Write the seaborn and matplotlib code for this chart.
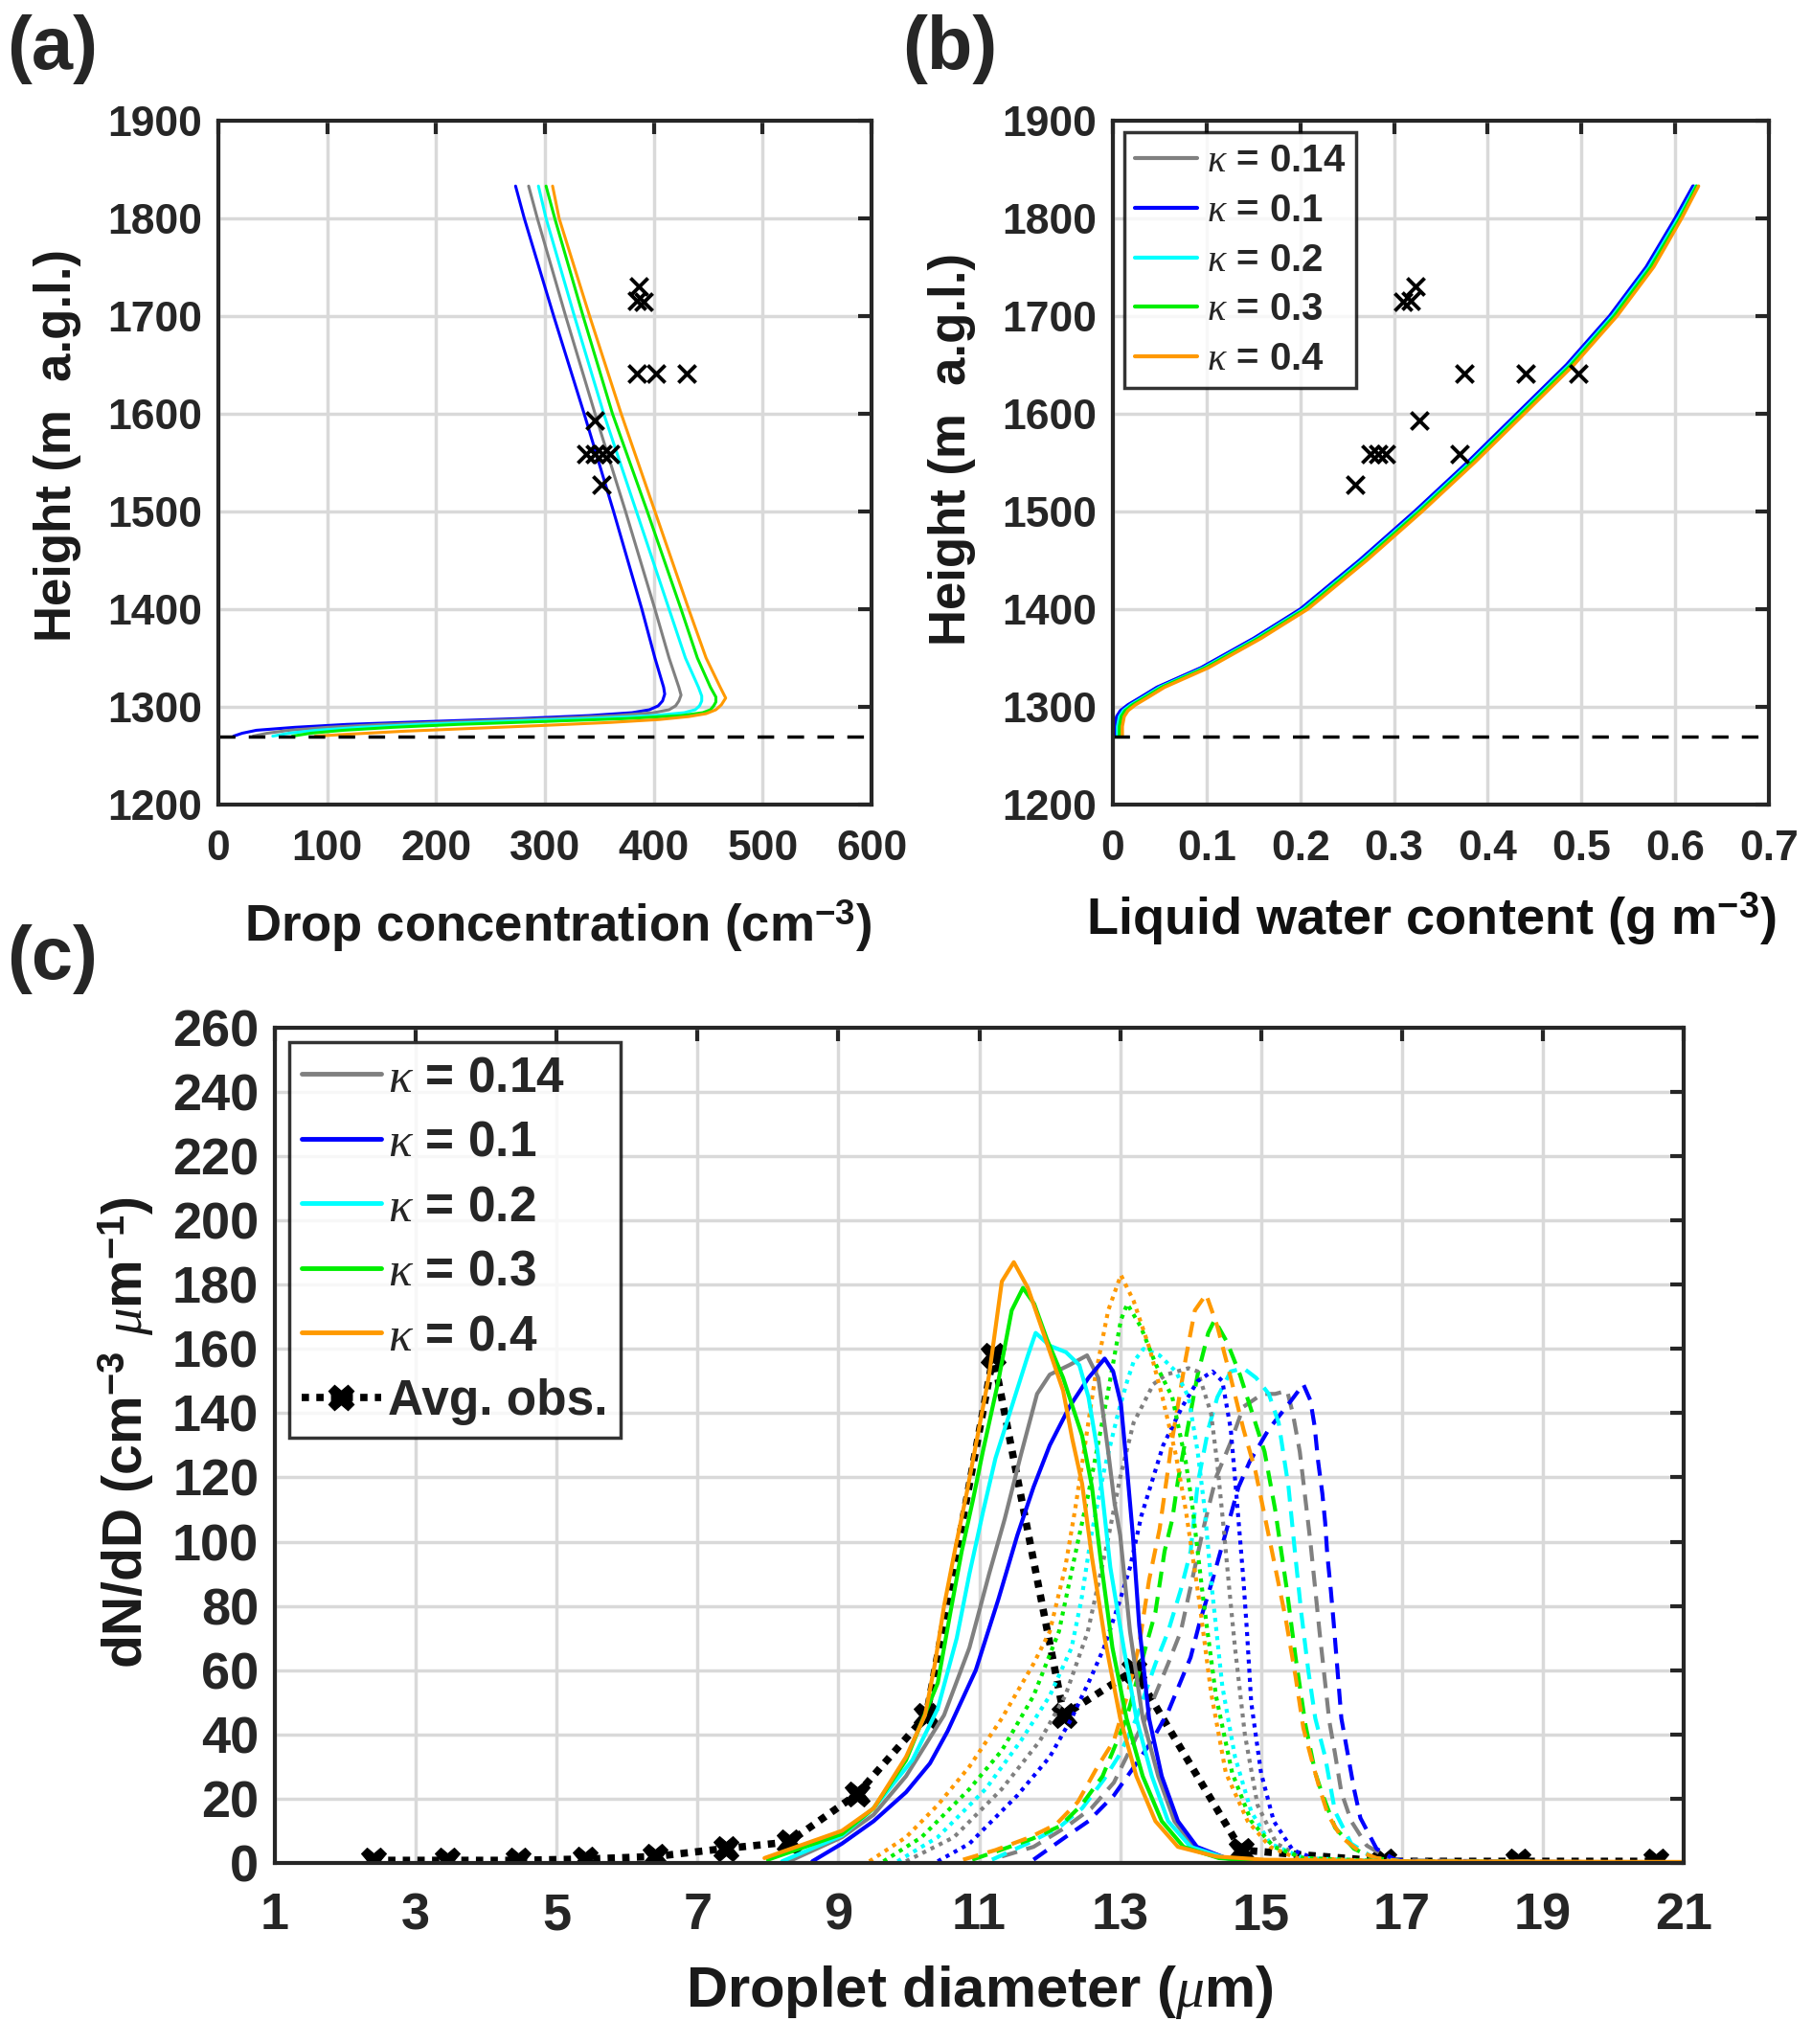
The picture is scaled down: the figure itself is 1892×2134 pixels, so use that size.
import numpy as np
import pandas as pd
import matplotlib
matplotlib.use('Agg')
import matplotlib.pyplot as plt
import seaborn as sns
from matplotlib.lines import Line2D

# ---------------- data: panel (a) drop concentration profiles ----------------
kappa_labels = [r'$\kappa$ = 0.14', r'$\kappa$ = 0.1', r'$\kappa$ = 0.2', r'$\kappa$ = 0.3', r'$\kappa$ = 0.4']
kappa_keys = ['k014', 'k01', 'k02', 'k03', 'k04']
colors = {'k014': '#808080', 'k01': '#0000ff', 'k02': '#00ffff', 'k03': '#00ee00', 'k04': '#ff9900'}

h_a_k01 = [1270, 1273, 1276, 1279, 1282, 1285, 1288, 1291, 1294, 1297, 1301, 1306, 1313, 1320, 1350, 1400, 1500, 1600, 1700, 1800, 1833]
nd_k01 = [14, 22, 35, 70, 118, 195, 277, 340, 380, 396, 404, 408, 410, 409, 401, 389, 363, 336, 308, 281, 273]
h_a_k014 = [1270, 1273, 1276, 1279, 1282, 1285, 1288, 1291, 1294, 1297, 1301, 1306, 1312, 1320, 1350, 1400, 1500, 1600, 1700, 1800, 1833]
nd_k014 = [32, 45, 65, 100, 150, 225, 305, 365, 400, 414, 420, 423, 425, 423, 414, 401, 374, 346, 319, 293, 285]
h_a_k02 = [1270, 1273, 1276, 1279, 1282, 1285, 1288, 1291, 1294, 1297, 1301, 1306, 1311, 1320, 1350, 1400, 1500, 1600, 1700, 1800, 1833]
nd_k02 = [50, 65, 90, 130, 185, 260, 340, 400, 428, 438, 442, 444, 444, 441, 429, 414, 384, 354, 327, 301, 294]
h_a_k03 = [1270, 1273, 1276, 1279, 1282, 1285, 1288, 1291, 1294, 1297, 1301, 1305, 1310, 1320, 1350, 1400, 1500, 1600, 1700, 1800, 1833]
nd_k03 = [68, 85, 115, 160, 220, 300, 375, 425, 445, 452, 455, 457, 457, 452, 440, 425, 394, 362, 335, 309, 301]
h_a_k04 = [1270, 1272, 1275, 1278, 1281, 1284, 1287, 1290, 1293, 1297, 1302, 1309, 1320, 1350, 1400, 1500, 1600, 1700, 1800, 1833]
nd_k04 = [89, 120, 170, 235, 300, 360, 405, 432, 448, 457, 462, 466, 461, 448, 432, 401, 370, 341, 313, 307]

obs_height = [1730, 1716, 1715, 1641, 1641, 1641, 1593, 1559, 1559, 1559, 1559, 1527]
obs_nd = [386, 384, 391, 384, 402, 430, 346, 338, 346, 353, 360, 352]
obs_lwc = [0.323, 0.318, 0.310, 0.375, 0.440, 0.497, 0.327, 0.275, 0.283, 0.291, 0.370, 0.259]
cloud_base = 1270

# ---------------- data: panel (b) liquid water content ----------------
h_b = [1270, 1280, 1290, 1296, 1302, 1310, 1320, 1340, 1370, 1400, 1450, 1500, 1550, 1600, 1650, 1700, 1750, 1800, 1833]
lwc_k01 = [0.002, 0.002, 0.004, 0.008, 0.016, 0.030, 0.047, 0.094, 0.150, 0.200, 0.263, 0.322, 0.378, 0.431, 0.484, 0.530, 0.569, 0.600, 0.619]
lwc_k014 = [0.003, 0.003, 0.005, 0.009, 0.017, 0.031, 0.048, 0.095, 0.151, 0.201, 0.264, 0.323, 0.379, 0.432, 0.485, 0.531, 0.570, 0.601, 0.620]
lwc_k02 = [0.005, 0.005, 0.007, 0.011, 0.019, 0.033, 0.050, 0.097, 0.153, 0.203, 0.266, 0.325, 0.381, 0.434, 0.487, 0.533, 0.572, 0.603, 0.622]
lwc_k03 = [0.007, 0.007, 0.009, 0.013, 0.021, 0.035, 0.052, 0.099, 0.155, 0.205, 0.268, 0.327, 0.383, 0.436, 0.489, 0.535, 0.574, 0.605, 0.623]
lwc_k04 = [0.010, 0.010, 0.012, 0.016, 0.024, 0.038, 0.055, 0.102, 0.158, 0.208, 0.271, 0.330, 0.386, 0.439, 0.492, 0.538, 0.577, 0.607, 0.625]

# ---------------- data: panel (c) droplet size distributions ----------------
# solid lines
sol_x_k01 = [8.63, 9.05, 9.5, 9.96, 10.3, 10.55, 10.95, 11.27, 11.54, 11.77, 12.0, 12.28, 12.55, 12.78, 12.9, 13.01, 13.1, 13.18, 13.27, 13.41, 13.59, 13.82, 14.09, 14.5, 15.0, 17.0, 21.0]
sol_y_k01 = [0.5, 6, 13, 22, 31, 41, 60, 82, 102, 117, 130, 142, 151, 157, 153, 143, 122, 102, 74, 45, 27, 13, 5, 1.5, 0.5, 0.2, 0.0]
sol_x_k014 = [8.3, 9.05, 9.5, 9.96, 10.5, 10.86, 11.14, 11.36, 11.59, 11.82, 12.0, 12.28, 12.53, 12.69, 12.83, 12.92, 13.0, 13.14, 13.32, 13.54, 13.77, 14.04, 14.5, 15.0, 17.0, 21.0]
sol_y_k014 = [0.5, 8, 15, 27, 46, 67, 90, 107, 127, 146, 152, 155, 158, 151, 128, 112, 102, 72, 45, 27, 13, 5, 1.5, 0.5, 0.2, 0.0]
sol_x_k02 = [8.2, 9.05, 9.5, 10.05, 10.41, 10.68, 10.86, 11.05, 11.23, 11.46, 11.69, 11.8, 12.0, 12.23, 12.42, 12.55, 12.68, 12.86, 13.05, 13.23, 13.45, 13.68, 14.0, 14.5, 15.0, 17.0, 21.0]
sol_y_k02 = [0.5, 8.5, 17, 32, 48, 70, 90, 109, 126, 142, 158, 165, 161, 159, 155, 145, 128, 92, 67, 45, 27, 13, 5, 1.5, 0.5, 0.2, 0.0]
sol_x_k03 = [8.0, 9.05, 9.5, 9.96, 10.41, 10.59, 10.75, 10.91, 11.05, 11.27, 11.46, 11.62, 11.78, 11.96, 12.19, 12.46, 12.6, 12.72, 12.89, 13.09, 13.32, 13.59, 13.9, 14.4, 15.0, 17.0, 21.0]
sol_y_k03 = [1, 9, 17, 32, 56, 78, 97, 113, 128, 150, 172, 179, 174, 163, 151, 133, 117, 95, 67, 45, 27, 13, 5, 1.5, 0.5, 0.2, 0.0]
sol_x_k04 = [7.95, 9.05, 9.5, 9.96, 10.23, 10.37, 10.5, 10.66, 10.82, 10.95, 11.14, 11.32, 11.49, 11.69, 11.91, 12.19, 12.32, 12.46, 12.6, 12.78, 13.0, 13.23, 13.5, 13.82, 14.36, 15.04, 17.0, 21.0]
sol_y_k04 = [1.5, 10, 17, 33, 46, 62, 80, 98, 115, 130, 152, 181, 187, 179, 165, 147, 132, 118, 95, 70, 45, 27, 13, 5, 2, 1, 0.5, 0.3]

# dotted lines
dot_x_k01 = [10.41, 10.86, 11.54, 12.0, 12.31, 12.59, 12.77, 13.0, 13.14, 13.3, 13.61, 13.88, 14.1, 14.31, 14.45, 14.57, 14.66, 14.75, 14.8, 14.86, 15.0, 15.18, 15.45, 15.8, 17.0, 21.0]
dot_y_k01 = [0.5, 6, 21, 33, 45, 58, 67, 82, 92, 108, 130, 142, 150, 153, 150, 135, 112, 88, 72, 50, 28, 13, 4, 1, 0.3, 0.0]
dot_x_k014 = [9.96, 10.64, 11.32, 11.86, 12.22, 12.54, 12.82, 13.0, 13.19, 13.47, 13.65, 13.97, 14.1, 14.29, 14.38, 14.47, 14.55, 14.63, 14.77, 14.95, 15.22, 15.6, 17.0, 21.0]
dot_y_k014 = [0.5, 8, 23, 38, 52, 72, 100, 120, 137, 149, 152, 154, 153, 140, 124, 104, 85, 67, 40, 18, 6, 1.5, 0.3, 0.0]
dot_x_k02 = [9.84, 10.41, 11.09, 11.59, 12.0, 12.31, 12.45, 12.59, 12.77, 12.97, 13.1, 13.19, 13.33, 13.56, 13.79, 13.97, 14.1, 14.2, 14.29, 14.45, 14.63, 14.86, 15.13, 15.6, 17.0, 21.0]
dot_y_k02 = [0.5, 8, 23, 38, 52, 67, 82, 102, 122, 140, 150, 156, 160, 158, 153, 145, 128, 110, 88, 55, 33, 16, 6, 1.5, 0.3, 0.0]
dot_x_k03 = [9.64, 10.18, 10.86, 11.32, 11.77, 12.13, 12.4, 12.55, 12.7, 12.83, 13.01, 13.1, 13.29, 13.51, 13.74, 13.93, 14.02, 14.18, 14.36, 14.59, 14.86, 15.18, 15.6, 17.0, 21.0]
dot_y_k03 = [0.5, 8, 23, 35, 52, 72, 100, 115, 132, 147, 169, 174, 167, 155, 145, 125, 112, 82, 52, 28, 13, 5, 1.5, 0.3, 0.0]
dot_x_k04 = [9.44, 9.96, 10.41, 10.86, 11.32, 11.77, 12.0, 12.22, 12.36, 12.5, 12.65, 12.83, 13.01, 13.19, 13.42, 13.6, 13.79, 13.93, 14.12, 14.29, 14.5, 14.81, 15.13, 15.5, 17.0, 21.0]
dot_y_k04 = [0.5, 8, 18, 30, 45, 62, 72, 92, 110, 130, 152, 172, 183, 175, 160, 145, 127, 110, 82, 53, 28, 13, 5, 1.5, 0.3, 0.0]

# dashed lines
dsh_x_k01 = [11.77, 12.22, 12.55, 12.91, 13.2, 13.45, 13.68, 14.0, 14.13, 14.31, 14.54, 14.68, 14.84, 15.11, 15.43, 15.6, 15.7, 15.76, 15.81, 15.87, 15.91, 15.94, 15.99, 16.03, 16.14, 16.23, 16.32, 16.41, 16.64, 16.9, 17.2, 21.0]
dsh_y_k01 = [1, 8, 13, 21, 30, 38, 47, 64, 75, 88, 106, 117, 125, 135, 144, 149, 144, 136, 125, 115, 106, 96, 85, 75, 45, 34, 23, 14, 4.4, 1, 0.5, 0.0]
dsh_x_k014 = [11.32, 11.77, 12.22, 12.59, 12.91, 13.36, 13.68, 13.86, 14.04, 14.18, 14.36, 14.57, 14.75, 15.02, 15.2, 15.37, 15.45, 15.55, 15.62, 15.7, 15.77, 15.83, 15.9, 15.97, 16.05, 16.14, 16.28, 16.5, 16.8, 17.0, 21.0]
dsh_y_k014 = [2, 5, 11, 17, 25, 45, 62, 72, 90, 104, 120, 131, 142, 146, 146, 147, 140, 128, 115, 100, 85, 72, 58, 44, 34, 22, 13, 5.4, 1.5, 0.8, 0.0]
dsh_x_k02 = [11.18, 11.68, 12.13, 12.46, 12.77, 13.0, 13.23, 13.5, 13.68, 13.86, 14.0, 14.1, 14.25, 14.38, 14.57, 14.75, 14.93, 15.11, 15.25, 15.39, 15.48, 15.57, 15.67, 15.77, 15.91, 16.05, 16.28, 16.6, 17.0, 21.0]
dsh_y_k02 = [1, 6, 11, 17, 26, 34, 45, 62, 72, 85, 97, 118, 135, 145, 153, 154, 151, 146, 137, 117, 97, 78, 60, 45, 33, 16, 6, 1.5, 0.5, 0.0]
dsh_x_k03 = [10.9, 11.3, 11.75, 12.15, 12.45, 12.75, 13.09, 13.36, 13.5, 13.63, 13.74, 13.82, 13.93, 14.1, 14.25, 14.34, 14.52, 14.7, 14.89, 15.05, 15.2, 15.36, 15.49, 15.63, 15.77, 15.86, 16.05, 16.32, 16.6, 17.0, 21.0]
dsh_y_k03 = [1, 4, 7.5, 11.5, 18, 27, 45, 67, 78, 97, 107, 119, 132, 152, 165, 169, 162, 152, 139, 128, 110, 86, 64, 43, 28, 22, 11, 4.4, 1.5, 0.5, 0.0]
dsh_x_k04 = [10.77, 11.23, 11.72, 12.09, 12.4, 12.68, 12.91, 13.1, 13.27, 13.41, 13.56, 13.74, 13.93, 14.06, 14.22, 14.38, 14.57, 14.75, 14.92, 15.08, 15.22, 15.35, 15.49, 15.6, 15.72, 15.82, 15.95, 16.14, 16.41, 16.64, 17.0, 21.0]
dsh_y_k04 = [1, 4, 8, 12, 19, 30, 38, 52, 68, 88, 104, 132, 157, 172, 177, 167, 151, 135, 122, 105, 90, 76, 58, 42, 32, 24, 15, 8, 3.4, 1.5, 0.5, 0.0]

# average observed distribution
obs_d = [2.4, 3.45, 4.45, 5.4, 6.4, 7.4, 8.3, 9.27, 10.25, 11.2, 12.2, 13.2, 14.72, 16.75, 18.65, 20.6]
obs_dndd = [0.8, 0.8, 0.8, 1.2, 2.0, 4.5, 6.5, 21.5, 46, 158, 46, 60, 4, 0.5, 0.5, 0.5]

# ---------------- styling ----------------
sns.set_style('white')
plt.rcParams['font.family'] = ['Liberation Sans', 'DejaVu Sans']
plt.rcParams['font.weight'] = 'bold'
plt.rcParams['axes.labelweight'] = 'bold'
plt.rcParams['mathtext.fontset'] = 'custom'
plt.rcParams['mathtext.rm'] = 'Liberation Sans:bold'
plt.rcParams['mathtext.bf'] = 'Liberation Sans:bold'
plt.rcParams['mathtext.sf'] = 'Liberation Sans:bold'
plt.rcParams['mathtext.it'] = 'Liberation Serif:style=italic:weight=normal'

SPINE = '#262626'
GRID = '#d9d9d9'
TXT = '#1a1a1a'


def style_axes(ax, fs, xpad, ypad):
    for s in ax.spines.values():
        s.set_visible(True)
        s.set_color(SPINE)
        s.set_linewidth(3)
    ax.grid(True, color=GRID, lw=2.5)
    ax.set_axisbelow(True)
    ax.tick_params(direction='in', length=10, width=3, top=True, right=True,
                   labelsize=fs, color=SPINE, labelcolor='#262626')
    ax.tick_params(axis='x', pad=xpad)
    ax.tick_params(axis='y', pad=ypad)


fig = plt.figure(figsize=(18.92, 21.34), dpi=100)

# ---------------- panel (a) ----------------
ax_a = fig.add_axes([0.1205, 0.6064, 0.3605, 0.3346])
prof_a = {'k014': (nd_k014, h_a_k014), 'k01': (nd_k01, h_a_k01), 'k02': (nd_k02, h_a_k02),
          'k03': (nd_k03, h_a_k03), 'k04': (nd_k04, h_a_k04)}
for k in ['k01', 'k014', 'k02', 'k03', 'k04']:
    xs, hs = prof_a[k]
    sns.lineplot(x=xs, y=hs, sort=False, estimator=None, color=colors[k], lw=2.2, ax=ax_a, legend=False)
ax_a.axhline(cloud_base, color='black', lw=2.5, dashes=(5, 4))
sns.scatterplot(x=obs_nd, y=obs_height, marker='x', color='black', s=170, linewidth=2.8, ax=ax_a, legend=False, zorder=5)
ax_a.set_xlim(0, 600)
ax_a.set_ylim(1200, 1900)
ax_a.set_xticks(np.arange(0, 601, 100))
ax_a.set_yticks(np.arange(1200, 1901, 100))
style_axes(ax_a, 32, 19, 12)
ax_a.set_xlabel('Drop concentration (cm$^{-3}$)', fontsize=38, labelpad=22, color=TXT, x=0.52)
ax_a.set_ylabel('Height (m  a.g.l.)', fontsize=38, labelpad=20, color=TXT, y=0.525)

# ---------------- panel (b) ----------------
ax_b = fig.add_axes([0.6142, 0.6064, 0.362, 0.3346])
lwc_b = {'k014': lwc_k014, 'k01': lwc_k01, 'k02': lwc_k02, 'k03': lwc_k03, 'k04': lwc_k04}
handles_b = []
for k, lab in zip(kappa_keys, kappa_labels):
    sns.lineplot(x=lwc_b[k], y=h_b, sort=False, estimator=None, color=colors[k], lw=2.5, ax=ax_b, legend=False)
    handles_b.append(Line2D([0], [0], color=colors[k], lw=3))
ax_b.axhline(cloud_base, color='black', lw=2.5, dashes=(5, 4))
sns.scatterplot(x=obs_lwc, y=obs_height, marker='x', color='black', s=170, linewidth=2.8, ax=ax_b, legend=False, zorder=5)
ax_b.set_xlim(0, 0.7)
ax_b.set_ylim(1200, 1900)
ax_b.set_xticks(np.arange(0, 0.71, 0.1))
ax_b.set_xticklabels(['0', '0.1', '0.2', '0.3', '0.4', '0.5', '0.6', '0.7'])
ax_b.set_yticks(np.arange(1200, 1901, 100))
style_axes(ax_b, 32, 19, 12)
ax_b.set_xlabel('Liquid water content (g m$^{-3}$)', fontsize=39, labelpad=16, color='#111111', x=0.485)
ax_b.set_ylabel('Height (m  a.g.l.)', fontsize=38, labelpad=20, color=TXT, y=0.52)
leg_b = ax_b.legend(handles_b, kappa_labels, loc='upper left', fontsize=29, frameon=True, fancybox=False,
                    edgecolor='black', borderaxespad=0.3, handlelength=1.6, handletextpad=0.25,
                    labelspacing=0.34, borderpad=0.28)
leg_b.get_frame().set_linewidth(2.5)

# ---------------- panel (c) ----------------
ax_c = fig.add_axes([0.1517, 0.0886, 0.7775, 0.4086])
sol = {'k014': (sol_x_k014, sol_y_k014), 'k01': (sol_x_k01, sol_y_k01), 'k02': (sol_x_k02, sol_y_k02),
       'k03': (sol_x_k03, sol_y_k03), 'k04': (sol_x_k04, sol_y_k04)}
dot = {'k014': (dot_x_k014, dot_y_k014), 'k01': (dot_x_k01, dot_y_k01), 'k02': (dot_x_k02, dot_y_k02),
       'k03': (dot_x_k03, dot_y_k03), 'k04': (dot_x_k04, dot_y_k04)}
dsh = {'k014': (dsh_x_k014, dsh_y_k014), 'k01': (dsh_x_k01, dsh_y_k01), 'k02': (dsh_x_k02, dsh_y_k02),
       'k03': (dsh_x_k03, dsh_y_k03), 'k04': (dsh_x_k04, dsh_y_k04)}

sns.lineplot(x=obs_d, y=obs_dndd, sort=False, estimator=None, color='black', lw=5.5, ax=ax_c,
             legend=False, linestyle=(0, (1.0, 1.0)), marker='X', markersize=19,
             markeredgecolor='black', markerfacecolor='black')
for k in kappa_keys:
    xs, ys = dsh[k]
    sns.lineplot(x=xs, y=ys, sort=False, estimator=None, color=colors[k], lw=3, ax=ax_c, legend=False,
                 linestyle=(0, (4.0, 2.4)))
for k in kappa_keys:
    xs, ys = dot[k]
    sns.lineplot(x=xs, y=ys, sort=False, estimator=None, color=colors[k], lw=3, ax=ax_c, legend=False,
                 linestyle=(0, (1.0, 1.3)))
for k in kappa_keys:
    xs, ys = sol[k]
    sns.lineplot(x=xs, y=ys, sort=False, estimator=None, color=colors[k], lw=3, ax=ax_c, legend=False)

handles_c = [Line2D([0], [0], color=colors[k], lw=3.5) for k in kappa_keys]
handles_c.append(Line2D([0], [0], color='black', lw=5.5, linestyle=(0, (1.0, 1.0)), marker='X', markersize=19))
labels_c = kappa_labels + ['Avg. obs.']
ax_c.set_xlim(1, 21)
ax_c.set_ylim(0, 260)
ax_c.set_xticks(np.arange(1, 22, 2))
ax_c.set_yticks(np.arange(0, 261, 20))
style_axes(ax_c, 39, 22, 12)
ax_c.set_xlabel(r'Droplet diameter ($\mu$m)', fontsize=43, labelpad=18, color=TXT)
ax_c.set_ylabel(r'dN/dD (cm$^{-3}$ $\mu$m$^{-1}$)', fontsize=41, labelpad=12, color=TXT, y=0.515)
leg_c = ax_c.legend(handles_c, labels_c, loc='upper left', fontsize=37, frameon=True, fancybox=False,
                    edgecolor='black', borderaxespad=0.3, handlelength=1.6, handletextpad=0.15,
                    labelspacing=0.36, borderpad=0.25, numpoints=1)
leg_c.get_frame().set_linewidth(2.5)

# panel labels
fig.text(0.004, 0.993, '(a)', fontsize=56, fontweight='bold', va='top', ha='left')
fig.text(0.498, 0.993, '(b)', fontsize=56, fontweight='bold', va='top', ha='left')
fig.text(0.004, 0.548, '(c)', fontsize=56, fontweight='bold', va='top', ha='left')

fig.savefig('out.png', dpi=100)
